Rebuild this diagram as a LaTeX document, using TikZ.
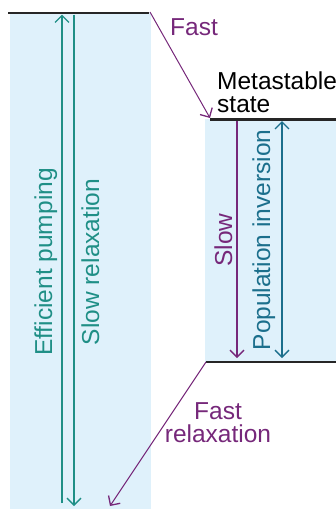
\documentclass[tikz,border=0pt]{standalone}
\usepackage{fontspec}
\setmainfont{Liberation Sans}
\usetikzlibrary{arrows.meta}
\definecolor{bgblue}{HTML}{DFF1FB}
\definecolor{tealc}{HTML}{1F8F86}
\definecolor{popc}{HTML}{1B6F8C}
\definecolor{purp}{HTML}{76287A}
\tikzset{
  myhead/.tip={Straight Barb[length=7pt,width=14pt,line width=1.3pt]},
  lvl/.style={line width=2.6pt, draw=black!85},
  arr/.style={line width=1.2pt},
  lbl/.style={font=\fontsize{24.5}{23}\selectfont, inner sep=0pt},
  rlbl/.style={lbl, rotate=90, anchor=base}
}
\begin{document}
\begin{tikzpicture}[x=1pt,y=-1pt]
\useasboundingbox (0,0) rectangle (336,509);
% backgrounds
\fill[bgblue] (10,13) rectangle (151,509);
\fill[bgblue] (205,119) rectangle (336,362);
% levels
\coordinate (tl1) at (8,13);
\coordinate (tl2) at (149,13);
\coordinate (ml1) at (210,119.5);
\coordinate (ml2) at (336,119.5);
\coordinate (bl1) at (206,362);
\coordinate (bl2) at (336,362);
\draw[lvl] (tl1) -- (tl2);
\draw[lvl] (ml1) -- (ml2);
\draw[lvl] (bl1) -- (bl2);
% arrow end points
\coordinate (ep0) at (62,503);
\coordinate (ep1) at (62,14.5);
\coordinate (sr0) at (74,14.5);
\coordinate (sr1) at (74,506);
\coordinate (sl0) at (237,121);
\coordinate (sl1) at (237,358);
\coordinate (pi0) at (282,121);
\coordinate (pi1) at (282,358);
\coordinate (fa0) at (150,12);
\coordinate (fa1) at (210,118);
\coordinate (fr0) at (206,362);
\coordinate (fr1) at (110,506);
% arrows
\draw[arr, tealc, -{myhead}] (ep0) -- (ep1);
\draw[arr, tealc, -{myhead}] (sr0) -- (sr1);
\draw[arr, purp, -{myhead}] (sl0) -- (sl1);
\draw[arr, popc, {myhead}-{myhead}] (pi0) -- (pi1);
\draw[arr, purp, line width=1pt, -{myhead}] (fa0) -- (fa1);
\draw[arr, purp, line width=1pt, -{myhead}] (fr0) -- (fr1);
% labels
\node[lbl, purp, anchor=base west] (fast) at (170,35) {Fast};
\node[lbl, black, anchor=base west, align=left] (meta) at (217,112) {Metastable\\state};
\node[lbl, purp, align=center, anchor=base] (frel) at (218,442) {Fast\\relaxation};
\node[rlbl, tealc] (effp) at (52,262) {Efficient pumping};
\node[rlbl, tealc] (slowr) at (99,262) {Slow relaxation};
\node[rlbl, purp] (slow) at (232,240) {Slow};
\node[rlbl, popc] (popi) at (270,240) {Population inversion};
\end{tikzpicture}
\end{document}
